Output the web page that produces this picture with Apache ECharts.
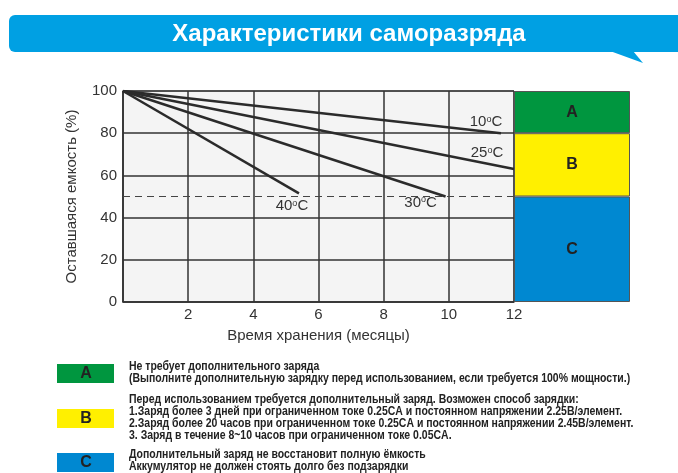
<!DOCTYPE html>
<html>
<head>
<meta charset="utf-8">
<script src="https://cdn.jsdelivr.net/npm/echarts@6/dist/echarts.min.js"></script>
<style>
  html, body { margin: 0; padding: 0; background: #fff; }
  #main { width: 678px; height: 473px; }
</style>
</head>
<body>
<div id="main"></div>
<script>
// данные кривых саморазряда: [месяцы, остаточная емкость %]
const curve10 = [[0, 100], [11.6, 80]];
const curve25 = [[0, 100], [12, 63]];
const curve30 = [[0, 100], [9.9, 50]];
const curve40 = [[0, 100], [5.4, 51.5]];
const tempLabels = ['10', '25', '30', '40'];
// зоны A / B / C (снизу вверх)
const zoneNames = ['C', 'B', 'A'];
const zoneValues = [50, 30, 20];
const zoneColors = ['#0088d1', '#fff000', '#00963f'];
const limitLine = 50;

const legendTexts = {
  A: ['Не требует дополнительного заряда',
      '(Выполните дополнительную зарядку перед использованием, если требуется 100% мощности.)'],
  B: ['Перед использованием требуется дополнительный заряд. Возможен способ зарядки:',
      '1.Заряд более 3 дней при ограниченном токе 0.25CA и постоянном напряжении 2.25B/элемент.',
      '2.Заряд более 20 часов при ограниченном токе 0.25CA и постоянном напряжении 2.45B/элемент.',
      '3. Заряд в течение 8~10 часов при ограниченном токе 0.05CA.'],
  C: ['Дополнительный заряд не восстановит полную ёмкость',
      'Аккумулятор не должен стоять долго без подзарядки']
};

const FONT = 'Liberation Sans, Arial, sans-serif';
const INK = '#2b2b2b';

let chart = echarts.init(document.getElementById('main'));

function curveSeries(data, temp, offset) {
  let pts = data.map(function(p, i) {
    if (i === data.length - 1) {
      return {
        value: p,
        label: {
          show: true,
          position: 'inside',
          offset: offset,
          formatter: temp + '{s|o}C',
          fontFamily: FONT,
          fontSize: 15,
          color: '#333',
          rich: {
            s: { fontSize: 9, verticalAlign: 'top', color: '#333', fontFamily: FONT, padding: [0, 0, 6, 0] }
          }
        }
      };
    }
    return { value: p };
  });
  return {
    type: 'line',
    xAxisIndex: 0,
    yAxisIndex: 0,
    data: pts,
    symbol: 'circle',
    symbolSize: 0.1,
    showSymbol: true,
    itemStyle: { color: 'rgba(0,0,0,0)' },
    lineStyle: { color: INK, width: 2.5 },
    silent: true,
    z: 5
  };
}

let series = [
  curveSeries(curve10, tempLabels[0], [-15, -11]),
  curveSeries(curve25, tempLabels[1], [-27, -16]),
  curveSeries(curve30, tempLabels[2], [-25, 6]),
  curveSeries(curve40, tempLabels[3], [-7, 13])
];
series[0].markLine = {
  symbol: 'none',
  silent: true,
  label: { show: false },
  lineStyle: { color: '#444', type: [7, 5], width: 1.2 },
  data: [{ yAxis: limitLine }]
};

// зоны справа — столбцы с накоплением
zoneNames.forEach(function(name, i) {
  series.push({
    type: 'bar',
    xAxisIndex: 1,
    yAxisIndex: 1,
    stack: 'zone',
    barWidth: '100%',
    data: [zoneValues[i]],
    itemStyle: { color: zoneColors[i], borderColor: '#555', borderWidth: 1 },
    label: {
      show: true,
      position: 'inside',
      formatter: name,
      fontFamily: FONT,
      fontWeight: 'bold',
      fontSize: 16,
      color: '#222'
    },
    silent: true
  });
});

// легенда внизу
let legendGraphics = [];
let boxY = { A: 364, B: 409, C: 453 };
let textY = { A: 361, B: 394, C: 449 };
['A', 'B', 'C'].forEach(function(k, i) {
  legendGraphics.push({
    type: 'rect',
    shape: { x: 57, y: boxY[k], width: 57, height: 19 },
    style: { fill: zoneColors[2 - i] }
  });
  legendGraphics.push({
    type: 'text',
    x: 86, y: boxY[k] + 10,
    style: {
      text: k, fontFamily: FONT, fontWeight: 'bold', fontSize: 16,
      fill: '#222', align: 'center', verticalAlign: 'middle'
    }
  });
  legendGraphics.push({
    type: 'text',
    x: 129, y: textY[k],
    scaleX: 0.873,
    style: {
      text: legendTexts[k].join('\n'),
      fontFamily: FONT, fontWeight: 'bold', fontSize: 12, lineHeight: 12,
      fill: '#222', align: 'left', verticalAlign: 'top'
    }
  });
});

let option = {
  animation: false,
  backgroundColor: '#fff',
  graphic: [
    {
      type: 'rect',
      shape: { x: 9, y: 15, width: 700, height: 37, r: 6 },
      style: { fill: '#00a0e3' }
    },
    {
      type: 'polygon',
      shape: { points: [[610, 51], [643, 63], [633, 51]] },
      style: { fill: '#00a0e3' }
    },
    {
      type: 'text',
      x: 349, y: 34,
      style: {
        text: 'Характеристики саморазряда',
        fontFamily: FONT, fontWeight: 'bold', fontSize: 24,
        fill: '#fff', align: 'center', verticalAlign: 'middle'
      }
    }
  ].concat(legendGraphics),
  grid: [
    {
      left: 123, right: 164, top: 91, bottom: 171,
      show: true, backgroundColor: '#f4f4f4', borderColor: '#555', borderWidth: 1
    },
    {
      left: 514, right: 48, top: 91, bottom: 171
    }
  ],
  xAxis: [
    {
      type: 'value',
      gridIndex: 0,
      min: 0, max: 12, interval: 2,
      name: 'Время хранения (месяцы)',
      nameLocation: 'middle',
      nameGap: 26,
      nameTextStyle: { fontFamily: FONT, fontSize: 15, color: '#333' },
      axisLine: { lineStyle: { color: '#333', width: 1.5 } },
      axisTick: { show: false },
      axisLabel: {
        fontFamily: FONT, fontSize: 15, color: '#333', margin: 5,
        formatter: function(v) { return v === 0 ? '' : v; }
      },
      splitLine: { show: true, lineStyle: { color: '#333', width: 1.5 } }
    },
    {
      type: 'category',
      gridIndex: 1,
      data: [''],
      show: false
    }
  ],
  yAxis: [
    {
      type: 'value',
      gridIndex: 0,
      min: 0, max: 100, interval: 20,
      name: 'Оставшаяся емкость (%)',
      nameLocation: 'middle',
      nameGap: 44,
      nameTextStyle: { fontFamily: FONT, fontSize: 15, color: '#333' },
      axisLine: { show: true, lineStyle: { color: '#333', width: 1.5 } },
      axisTick: { show: false },
      axisLabel: { fontFamily: FONT, fontSize: 15, color: '#333', margin: 6 },
      splitLine: { show: true, lineStyle: { color: '#333', width: 1.5 } }
    },
    {
      type: 'value',
      gridIndex: 1,
      min: 0, max: 100,
      show: false
    }
  ],
  series: series
};

if (option && typeof option === 'object') {
  chart.setOption(option);
}
</script>
</body>
</html>
